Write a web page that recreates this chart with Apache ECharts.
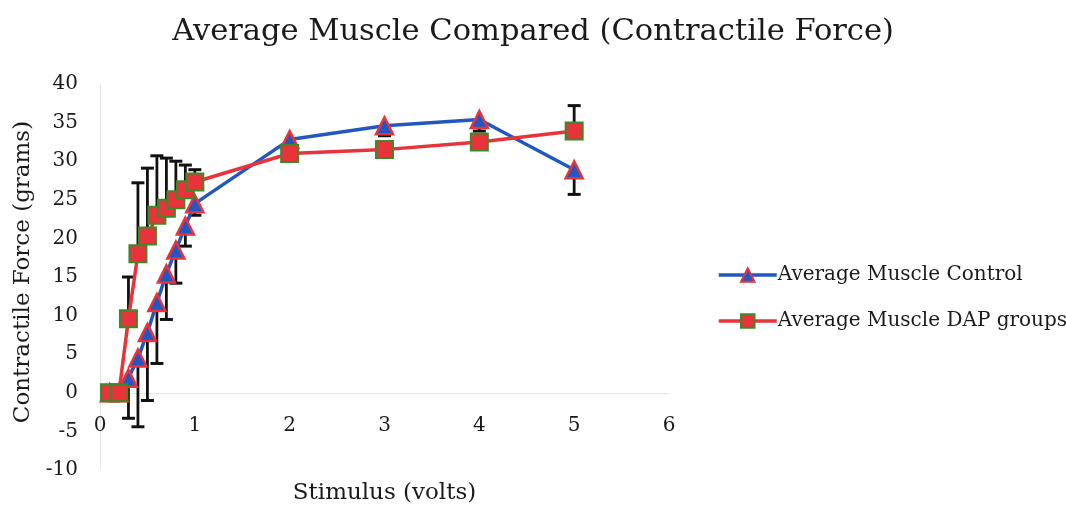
<!DOCTYPE html>
<html>
<head>
<meta charset="utf-8">
<script src="https://cdn.jsdelivr.net/npm/echarts@6/dist/echarts.min.js"></script>
<style>html,body{margin:0;padding:0;background:#fff}#c{width:1066px;height:506px}</style>
</head>
<body>
<div id="c"></div>
<script>
const stimulus = [0.1, 0.2, 0.3, 0.4, 0.5, 0.6, 0.7, 0.8, 0.9, 1, 2, 3, 4, 5];
const controlForce = [0, 0, 1.9, 4.5, 7.8, 11.7, 15.4, 18.5, 21.6, 24.5, 32.8, 34.6, 35.4, 28.9];
const controlErrMinus = [0, 0, 5.2, 8.9, 8.8, 7.9, 5.9, 4.3, 2.6, 1.5, 0.5, 1.3, 1.5, 3.2];
const dapForce = [0, 0, 9.6, 18.0, 20.3, 23.0, 23.9, 25.0, 26.3, 27.3, 31.0, 31.5, 32.5, 33.9];
const dapErrPlus = [0, 0, 5.4, 9.2, 8.8, 7.7, 6.5, 5.0, 3.2, 1.6, 0.5, 0.5, 0.5, 3.3];
const seriesNames = ['Average Muscle Control', 'Average Muscle DAP groups'];
const xTicks = [0, 1, 2, 3, 4, 5, 6];

const FONT = '"DejaVu Serif", "Liberation Serif", serif';
const chart = echarts.init(document.getElementById('c'), null, {renderer: 'canvas'});

function errRenderer(dir) {
  return function (params, api) {
    const x = api.value(0), y = api.value(1), e = api.value(2);
    if (!e) return null;
    const p0 = api.coord([x, y]);
    const p1 = api.coord([x, y + dir * e]);
    const cap = 6.5;
    return {
      type: 'group',
      children: [
        {type: 'line', shape: {x1: p0[0], y1: p0[1], x2: p1[0], y2: p1[1]}, style: {stroke: '#111', lineWidth: 2.8}},
        {type: 'line', shape: {x1: p1[0] - cap, y1: p1[1], x2: p1[0] + cap, y2: p1[1]}, style: {stroke: '#111', lineWidth: 3}}
      ]
    };
  };
}

const controlPts = stimulus.map((x, i) => [x, controlForce[i]]);
const dapPts = stimulus.map((x, i) => [x, dapForce[i]]);
const controlErr = stimulus.map((x, i) => [x, controlForce[i], controlErrMinus[i]]);
const dapErr = stimulus.map((x, i) => [x, dapForce[i], dapErrPlus[i]]);

chart.setOption({
  animation: false,
  backgroundColor: '#fff',
  title: {
    text: 'Average Muscle Compared (Contractile Force)',
    left: 'center',
    top: 12,
    textStyle: {fontFamily: FONT, fontSize: 30.5, fontWeight: 'normal', color: '#1a1a1a'}
  },
  legend: {
    data: seriesNames,
    orient: 'vertical',
    left: 712,
    top: 260,
    itemWidth: 58,
    itemHeight: 17,
    itemGap: 26,
    lineStyle: {width: 3.5},
    textStyle: {fontFamily: FONT, fontSize: 20, color: '#1a1a1a', padding: [0, 0, 0, -4]}
  },
  grid: {left: 100, right: 397, top: 84, bottom: 36, containLabel: false, outerBoundsMode: 'none'},
  xAxis: {
    type: 'value',
    min: 0, max: 6, interval: 1,
    name: 'Stimulus (volts)',
    nameLocation: 'middle',
    nameGap: 12,
    nameTextStyle: {fontFamily: FONT, fontSize: 23, color: '#1a1a1a'},
    axisLine: {onZero: true, lineStyle: {color: '#e6e6e6', width: 1}},
    axisTick: {show: false},
    splitLine: {show: false},
    axisLabel: {fontFamily: FONT, fontSize: 20, color: '#1a1a1a', margin: -54,
      formatter: v => xTicks.includes(v) ? String(v) : ''}
  },
  yAxis: {
    type: 'value',
    min: -10, max: 40, interval: 5,
    name: 'Contractile Force (grams)',
    nameLocation: 'middle',
    nameGap: 64,
    nameTextStyle: {fontFamily: FONT, fontSize: 23, color: '#1a1a1a', padding: [0, 0, 0, 10]},
    axisLine: {show: true, lineStyle: {color: '#e6e6e6', width: 1}},
    axisTick: {show: false},
    splitLine: {show: false},
    axisLabel: {fontFamily: FONT, fontSize: 20, color: '#1a1a1a', margin: 22}
  },
  series: [
    {type: 'custom', renderItem: errRenderer(-1), data: controlErr, encode: {x: 0, y: 1}, z: 1, silent: true},
    {type: 'custom', renderItem: errRenderer(1), data: dapErr, encode: {x: 0, y: 1}, z: 1, silent: true},
    {
      name: seriesNames[0], type: 'line', data: controlPts, z: 2,
      symbol: 'triangle', symbolSize: 17,
      lineStyle: {color: '#2257c2', width: 3.5},
      itemStyle: {color: '#2257c2', borderColor: '#e8333a', borderWidth: 2.5}
    },
    {
      name: seriesNames[1], type: 'line', data: dapPts, z: 3,
      symbol: 'rect', symbolSize: 17,
      lineStyle: {color: '#e8333a', width: 3.5},
      itemStyle: {color: '#e8333a', borderColor: '#3a8a2a', borderWidth: 2}
    }
  ]
});
</script>
</body>
</html>
